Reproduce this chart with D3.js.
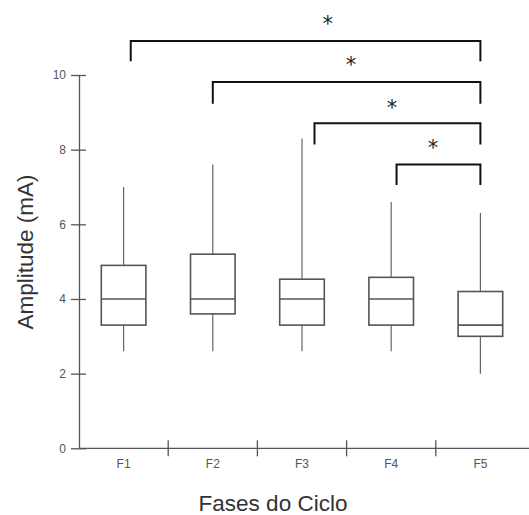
<html lang="en">
<head>
<meta charset="utf-8">
<title>Amplitude por fase</title>
<script src="https://d3js.org/d3.v7.min.js"></script>
<style>
  body { margin: 0; background: #fff; }
  svg { display: block; background: #fff; }
  .tick text { font-family: "Liberation Sans", Arial, sans-serif; font-size: 12px; fill: #555; }
  .title { font-family: "Liberation Sans", Arial, sans-serif; font-size: 22.5px; fill: #333; }
  .star { font-family: "DejaVu Sans", sans-serif; font-size: 21px; fill: #222; }
</style>
</head>
<body>
<svg id="chart" width="529" height="515"></svg>
<script>
// categories
var phases = ["F1", "F2", "F3", "F4", "F5"];
// box values (mA)
var whiskerLow = [2.6, 2.6, 2.6, 2.6, 2.0];
var q1 = [3.3, 3.6, 3.3, 3.3, 3.0];
var median = [4.0, 4.0, 4.0, 4.0, 3.3];
var q3 = [4.9, 5.2, 4.53, 4.58, 4.2];
var whiskerHigh = [7.0, 7.6, 8.3, 6.6, 6.3];
var yTicks = [0, 2, 4, 6, 8, 10];

// significance brackets: ends in category-index units, level in mA
var bracketFrom = [0.08, 1.0, 2.14, 3.06];
var bracketTo = [4.0, 4.0, 4.0, 4.0];
var bracketLevel = [10.91, 9.81, 8.71, 7.6];
var bracketDrop = [10.37, 9.23, 8.14, 7.05];
var starPos = [2.29, 2.55, 3.01, 3.47];
var starLevel = [11.47, 10.36, 9.22, 8.14];

var svg = d3.select("#chart"),
    plotLeft = 79, plotRight = 525, plotTop = 75, plotBottom = 448.3;

var x = d3.scaleBand().domain(phases).range([plotLeft, plotRight]).paddingInner(0).paddingOuter(0);
var y = d3.scaleLinear().domain([0, 10]).range([plotBottom, plotTop]);
// fractional category position (0 = F1 center, 4 = F5 center)
var xi = d3.scaleLinear().domain([0, 4])
  .range([x("F1") + x.bandwidth() / 2, x("F5") + x.bandwidth() / 2]);

var boxes = phases.map(function (p, i) {
  return {p: p, lo: whiskerLow[i], q1: q1[i], med: median[i], q3: q3[i], hi: whiskerHigh[i]};
});

//y axis
var yAxis = svg.append("g")
  .attr("transform", "translate(" + plotLeft + ",0)")
  .call(d3.axisLeft(y).tickValues(yTicks).tickSize(8).tickSizeOuter(0).tickPadding(5));
yAxis.select(".domain").attr("stroke", "#555").attr("stroke-width", 1.3);
yAxis.selectAll(".tick line").attr("x1", -8).attr("x2", 7).attr("stroke", "#555").attr("stroke-width", 1.3);

//x axis
var xAxis = svg.append("g")
  .attr("transform", "translate(0," + plotBottom + ")")
  .call(d3.axisBottom(x).tickSize(0).tickPadding(11));
xAxis.select(".domain").remove();
xAxis.append("line")
  .attr("x1", plotLeft).attr("x2", 529)
  .attr("stroke", "#555").attr("stroke-width", 1.3);
xAxis.selectAll(".sep")
  .data(phases.slice(1))
  .enter().append("line")
  .attr("class", "sep")
  .attr("x1", function (d) { return x(d); })
  .attr("x2", function (d) { return x(d); })
  .attr("y1", -8).attr("y2", 8)
  .attr("stroke", "#555").attr("stroke-width", 1.3);

//boxes
var bw = x.bandwidth() * 0.5;
var g = svg.selectAll(".box").data(boxes).enter().append("g").attr("class", "box");
g.append("line")
  .attr("x1", function (d) { return x(d.p) + x.bandwidth() / 2; })
  .attr("x2", function (d) { return x(d.p) + x.bandwidth() / 2; })
  .attr("y1", function (d) { return y(d.hi); })
  .attr("y2", function (d) { return y(d.q3); })
  .attr("stroke", "#666").attr("stroke-width", 1.2);
g.append("line")
  .attr("x1", function (d) { return x(d.p) + x.bandwidth() / 2; })
  .attr("x2", function (d) { return x(d.p) + x.bandwidth() / 2; })
  .attr("y1", function (d) { return y(d.q1); })
  .attr("y2", function (d) { return y(d.lo); })
  .attr("stroke", "#666").attr("stroke-width", 1.2);
g.append("rect")
  .attr("x", function (d) { return x(d.p) + x.bandwidth() / 2 - bw / 2; })
  .attr("width", bw)
  .attr("y", function (d) { return y(d.q3); })
  .attr("height", function (d) { return y(d.q1) - y(d.q3); })
  .attr("fill", "none").attr("stroke", "#555").attr("stroke-width", 1.6);
g.append("line")
  .attr("x1", function (d) { return x(d.p) + x.bandwidth() / 2 - bw / 2; })
  .attr("x2", function (d) { return x(d.p) + x.bandwidth() / 2 + bw / 2; })
  .attr("y1", function (d) { return y(d.med); })
  .attr("y2", function (d) { return y(d.med); })
  .attr("stroke", "#555").attr("stroke-width", 1.6);

//brackets
var brackets = bracketFrom.map(function (f, i) {
  return {from: f, to: bracketTo[i], level: bracketLevel[i], drop: bracketDrop[i], star: starPos[i], starLevel: starLevel[i]};
});
svg.selectAll(".bracket").data(brackets).enter().append("path")
  .attr("class", "bracket")
  .attr("d", function (d) {
    return "M" + xi(d.from) + "," + y(d.drop) + "V" + y(d.level) + "H" + xi(d.to) + "V" + y(d.drop);
  })
  .attr("fill", "none").attr("stroke", "#111").attr("stroke-width", 2);
svg.selectAll(".star").data(brackets).enter().append("text")
  .attr("class", "star")
  .attr("text-anchor", "middle")
  .attr("x", function (d) { return xi(d.star); })
  .attr("y", function (d) { return y(d.starLevel); })
  .attr("dy", "0.5em")
  .text("*");

//axis titles
svg.append("text").attr("class", "title")
  .attr("x", 273).attr("y", 511)
  .attr("text-anchor", "middle")
  .text("Fases do Ciclo");
svg.append("text").attr("class", "title")
  .attr("transform", "translate(33,252) rotate(-90)")
  .attr("text-anchor", "middle")
  .text("Amplitude (mA)");
</script>
</body>
</html>
